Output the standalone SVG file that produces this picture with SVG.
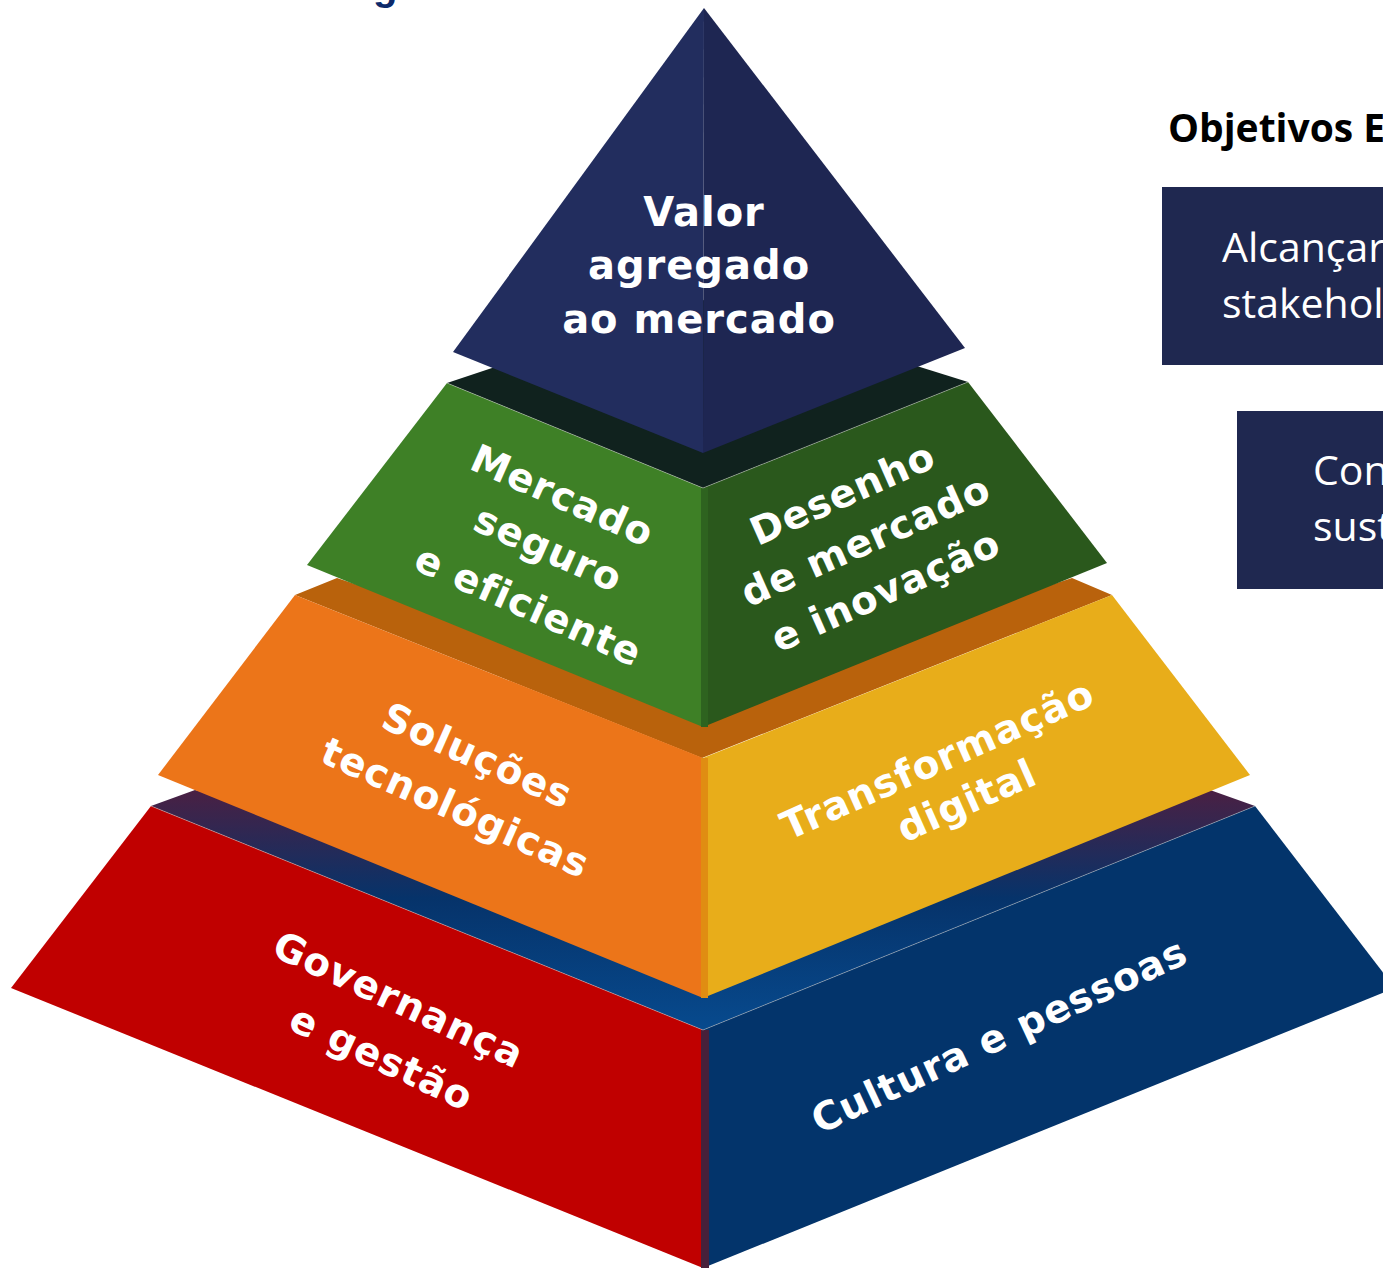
<svg xmlns="http://www.w3.org/2000/svg" width="1383" height="1268" viewBox="0 0 1383 1268">
<defs>
<linearGradient id="bandGrad" x1="0" y1="790" x2="0" y2="1030" gradientUnits="userSpaceOnUse">
<stop offset="0" stop-color="#4a2043"/>
<stop offset="0.45" stop-color="#06336a"/>
<stop offset="1" stop-color="#074a8e"/>
</linearGradient>
</defs>
<style>
.pt{font-family:"DejaVu Sans","Liberation Sans",sans-serif;font-weight:bold;fill:#ffffff;text-anchor:middle;letter-spacing:1px}
.side{font-family:"Open Sans","Liberation Sans",sans-serif;fill:#ffffff}
.box{fill:#1f2850}
.seam{fill:none;stroke:#c8c8c8;stroke-width:0.8;stroke-opacity:0.6}
</style>
<rect width="1383" height="1268" fill="#ffffff"/>
<text x="373" y="0" font-family="Liberation Sans, sans-serif" font-weight="bold" font-size="40" fill="#0d2a6b">g</text>

<g id="tier-base">
<polygon points="151,806 195,790 703,900 1210,790 1255,806 703,1030" fill="url(#bandGrad)"/>
<g id="governanca">
<polygon points="151,806 11,988 703,1268 703,1030" fill="#c00000"/>
<text class="pt" font-size="39" transform="translate(393,1012) rotate(25)">Governança</text>
<text class="pt" font-size="39" transform="translate(376,1070) rotate(25)">e gestão</text>
</g>
<g id="cultura">
<polygon points="1255,806 1395,988 703,1268 703,1030" fill="#03346b"/>
<rect x="701" y="1030" width="8" height="238" fill="#47203a"/>
<text class="pt" font-size="39" transform="translate(1005,1048) rotate(-25)">Cultura e pessoas</text>
</g>
<path class="seam" d="M151,806 L703,1030 L1255,806"/>
</g>

<g id="tier-tech">
<polygon points="295,595 337,578 703,700 1072,578 1112,595 702,758" fill="#b9620c"/>
<g id="solucoes">
<polygon points="295,595 158,775 703,998 703,758" fill="#ec7519"/>
<text class="pt" font-size="39" transform="translate(472,768) rotate(24)">Soluções</text>
<text class="pt" font-size="39" transform="translate(450,820) rotate(24)">tecnológicas</text>
</g>
<g id="transformacao">
<polygon points="1112,595 1250,775 703,998 703,758" fill="#e8ad1a"/>
<rect x="701" y="758" width="7" height="240" fill="#e08d12"/>
<text class="pt" font-size="39" transform="translate(943,772) rotate(-24)">Transformação</text>
<text class="pt" font-size="39" transform="translate(972,813) rotate(-24)">digital</text>
</g>
</g>

<g id="tier-market">
<polygon points="447,383 492,368 704,300 920,367 968,382 703,488" fill="#10221e"/>
<g id="mercado-seguro">
<polygon points="447,383 307,565 703,727 703,488" fill="#3e8026"/>
<text class="pt" font-size="39" transform="translate(557,508) rotate(24)">Mercado</text>
<text class="pt" font-size="39" transform="translate(543,561) rotate(24)">seguro</text>
<text class="pt" font-size="39" transform="translate(523,618) rotate(24)">e eficiente</text>
</g>
<g id="desenho-mercado">
<polygon points="968,382 1107,563 703,727 703,488" fill="#2a581c"/>
<rect x="701" y="488" width="7" height="239" fill="#2e631f"/>
<text class="pt" font-size="39" transform="translate(848,506) rotate(-24)">Desenho</text>
<text class="pt" font-size="39" transform="translate(871,553) rotate(-24)">de mercado</text>
<text class="pt" font-size="39" transform="translate(891,603) rotate(-24)">e inovação</text>
</g>
<path class="seam" d="M447,383 L703,488 L968,382"/>
</g>

<g id="valor-agregado">
<polygon points="704,8 453,352 703,453" fill="#222d5e"/>
<polygon points="704,8 965,348 703,453" fill="#1e2652"/>
<text class="pt" font-size="40" x="704" y="226">Valor</text>
<text class="pt" font-size="40" x="699" y="279">agregado</text>
<text class="pt" font-size="40" x="699" y="333">ao mercado</text>
</g>

<g id="objetivos">
<text x="1168" y="142" font-family="Open Sans, Liberation Sans, sans-serif" font-weight="bold" font-size="39" fill="#000000">Objetivos E</text>
<g id="obj1">
<rect class="box" x="1162" y="187" width="240" height="178"/>
<text class="side" x="1222" y="262" font-size="41">Alcançar</text>
<text class="side" x="1222" y="318" font-size="41">stakehol</text>
</g>
<g id="obj2">
<rect class="box" x="1237" y="411" width="160" height="178"/>
<text class="side" x="1313" y="485" font-size="41">Con</text>
<text class="side" x="1313" y="541" font-size="41">sust</text>
</g>
</g>
<g id="connectors"/>
</svg>
